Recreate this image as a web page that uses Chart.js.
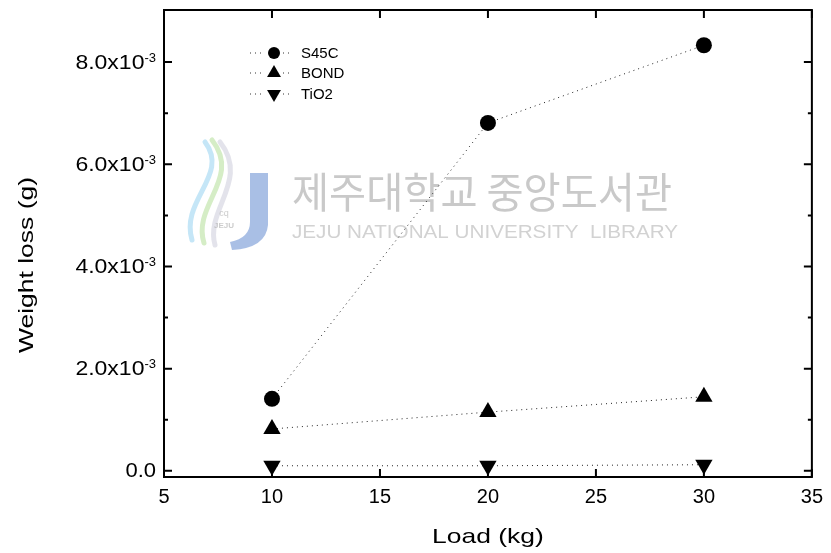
<!DOCTYPE html>
<html lang="ko">
<head>
    <meta charset="UTF-8">
    <title>Weight loss vs Load</title>
    <script src="https://cdn.jsdelivr.net/npm/chart.js"></script>
    <style>
        html, body { margin: 0; padding: 0; background: #fff; }
        .chart-box { width: 831px; height: 553px; position: relative; }
    </style>
</head>
<body>
    <div class="chart-box">
        <canvas id="wearChart"></canvas>
    </div>

    <script>
        // load (kg) and weight loss (g)
        const loads = [10, 20, 30];
        const s45c = [1.41e-3, 6.81e-3, 8.33e-3];
        const bond = [0.82e-3, 1.15e-3, 1.45e-3];
        const tio2 = [0.10e-3, 0.10e-3, 0.12e-3];

        const xTicks = [5, 10, 15, 20, 25, 30, 35];
        const yMajor = [0, 2e-3, 4e-3, 6e-3, 8e-3];
        const yMinor = [1e-3, 3e-3, 5e-3, 7e-3];
        const yLabels = ['0.0', '2.0x10', '4.0x10', '6.0x10', '8.0x10'];

        const FONT = '"Liberation Sans", Arial, sans-serif';

        function points(ys) {
            return loads.map((x, i) => ({ x: x, y: ys[i] }));
        }

        function series(label, ys, style, rot, r) {
            return {
                label: label,
                data: points(ys),
                borderColor: '#222',
                borderWidth: 1,
                borderDash: [1, 4],
                backgroundColor: '#000',
                pointStyle: style,
                rotation: rot,
                pointRadius: r,
                pointBorderWidth: 0,
                pointBackgroundColor: '#000',
                showLine: true,
                tension: 0
            };
        }

        // text drawn a bit wider than the font's natural width
        function wideText(ctx, text, x, y, font, sx, align, angle) {
            ctx.save();
            ctx.translate(x, y);
            if (angle) ctx.rotate(angle);
            ctx.scale(sx, 1);
            ctx.font = font;
            ctx.textAlign = align;
            ctx.textBaseline = 'middle';
            ctx.fillText(text, 0, 0);
            ctx.restore();
        }

        // faint library watermark behind the data
        const watermark = {
            id: 'watermark',
            beforeDatasetsDraw(chart) {
                const ctx = chart.ctx;
                ctx.save();
                // swirl logo
                ctx.lineCap = 'round';
                ctx.lineWidth = 5;
                ctx.strokeStyle = 'rgba(150,210,240,0.55)';
                ctx.beginPath();
                ctx.moveTo(205, 142);
                ctx.bezierCurveTo(230, 175, 180, 200, 192, 240);
                ctx.stroke();
                ctx.strokeStyle = 'rgba(185,225,160,0.6)';
                ctx.beginPath();
                ctx.moveTo(212, 140);
                ctx.bezierCurveTo(242, 178, 192, 205, 204, 243);
                ctx.stroke();
                ctx.strokeStyle = 'rgba(200,200,215,0.5)';
                ctx.beginPath();
                ctx.moveTo(220, 142);
                ctx.bezierCurveTo(250, 180, 205, 210, 215, 245);
                ctx.stroke();
                // J shape
                ctx.fillStyle = 'rgba(140,170,220,0.75)';
                ctx.beginPath();
                ctx.moveTo(250, 173);
                ctx.lineTo(268, 173);
                ctx.lineTo(268, 225);
                ctx.quadraticCurveTo(266, 248, 232, 250);
                ctx.lineTo(230, 242);
                ctx.quadraticCurveTo(250, 238, 250, 222);
                ctx.closePath();
                ctx.fill();
                ctx.fillStyle = 'rgba(170,170,170,0.6)';
                ctx.font = 'bold 8px ' + FONT;
                ctx.textAlign = 'center';
                ctx.fillText('JEJU', 224, 228);
                ctx.font = '9px ' + FONT;
                ctx.fillText('cq', 224, 216);

                // korean and english names
                ctx.fillStyle = '#c9c9c9';
                ctx.textAlign = 'left';
                ctx.textBaseline = 'middle';
                ctx.font = '42px "Noto Sans CJK KR", sans-serif';
                const kr = '제주대학교 중앙도서관';
                const kw = ctx.measureText(kr).width;
                ctx.save();
                ctx.translate(292, 192);
                ctx.scale(380 / kw, 1);
                ctx.fillText(kr, 0, 0);
                ctx.restore();
                ctx.fillStyle = '#d2d2d2';
                ctx.font = '18px ' + FONT;
                const en = 'JEJU NATIONAL UNIVERSITY  LIBRARY';
                const ew = ctx.measureText(en).width;
                ctx.save();
                ctx.translate(292, 233);
                ctx.scale(386 / ew, 1);
                ctx.fillText(en, 0, 0);
                ctx.restore();
                ctx.restore();
            }
        };

        // box frame, inward ticks, y labels with exponent, titles, legend
        const frame = {
            id: 'frame',
            afterDraw(chart) {
                const ctx = chart.ctx;
                const a = chart.chartArea;
                const xs = chart.scales.x, ys = chart.scales.y;
                ctx.save();
                ctx.strokeStyle = '#000';
                ctx.lineWidth = 2;
                ctx.strokeRect(a.left, a.top, a.right - a.left, a.bottom - a.top);

                ctx.beginPath();
                xTicks.forEach(v => {
                    const px = xs.getPixelForValue(v);
                    ctx.moveTo(px, a.bottom); ctx.lineTo(px, a.bottom - 8);
                    ctx.moveTo(px, a.top); ctx.lineTo(px, a.top + 8);
                });
                yMajor.forEach(v => {
                    const py = ys.getPixelForValue(v);
                    ctx.moveTo(a.left, py); ctx.lineTo(a.left + 8, py);
                    ctx.moveTo(a.right, py); ctx.lineTo(a.right - 8, py);
                });
                yMinor.forEach(v => {
                    const py = ys.getPixelForValue(v);
                    ctx.moveTo(a.left, py); ctx.lineTo(a.left + 4, py);
                    ctx.moveTo(a.right, py); ctx.lineTo(a.right - 4, py);
                });
                ctx.stroke();

                // y tick labels
                ctx.fillStyle = '#000';
                yMajor.forEach((v, i) => {
                    const py = ys.getPixelForValue(v);
                    const right = a.left - 8;
                    if (v === 0) {
                        wideText(ctx, yLabels[i], right, py + 1, '20px ' + FONT, 1.1, 'right');
                        return;
                    }
                    ctx.font = '13px ' + FONT;
                    const ew = ctx.measureText('-3').width;
                    wideText(ctx, '-3', right - ew, py - 4, '13px ' + FONT, 1, 'left');
                    wideText(ctx, yLabels[i], right - ew, py + 1, '20px ' + FONT, 1.15, 'right');
                });

                // axis titles
                wideText(ctx, 'Load (kg)', (a.left + a.right) / 2, 537, '21px ' + FONT, 1.26, 'center');
                wideText(ctx, 'Weight loss (g)', 27, 265, '21px ' + FONT, 1.26, 'center', -Math.PI / 2);

                // legend
                const rows = [
                    { ds: 0, y: 53, r: 6 },
                    { ds: 1, y: 73, r: 8 },
                    { ds: 2, y: 94, r: 8 }
                ];
                rows.forEach(r => {
                    const d = chart.data.datasets[r.ds];
                    ctx.strokeStyle = '#333';
                    ctx.lineWidth = 1;
                    ctx.setLineDash([1, 4]);
                    ctx.beginPath();
                    ctx.moveTo(250, r.y); ctx.lineTo(265, r.y);
                    ctx.moveTo(283, r.y); ctx.lineTo(292, r.y);
                    ctx.stroke();
                    ctx.setLineDash([]);
                    ctx.fillStyle = '#000';
                    Chart.helpers.drawPoint(ctx, {
                        pointStyle: d.pointStyle,
                        rotation: d.rotation,
                        radius: r.r,
                        borderWidth: 0
                    }, 274, r.y);
                    wideText(ctx, d.label, 301, r.y + 1, '15px ' + FONT, 1, 'left');
                });
                ctx.restore();
            }
        };

        const ctx = document.getElementById('wearChart').getContext('2d');
        new Chart(ctx, {
            type: 'scatter',
            data: {
                datasets: [
                    series('S45C', s45c, 'circle', 0, 8),
                    series('BOND', bond, 'triangle', 0, 10),
                    series('TiO2', tio2, 'triangle', 180, 10)
                ]
            },
            options: {
                responsive: true,
                maintainAspectRatio: false,
                animation: false,
                layout: { padding: { top: 10, right: 18, left: 0, bottom: 0 } },
                plugins: {
                    legend: { display: false },
                    tooltip: { enabled: false }
                },
                scales: {
                    x: {
                        type: 'linear',
                        min: 5,
                        max: 35,
                        afterFit: s => { s.height = 76; },
                        afterBuildTicks: s => { s.ticks = xTicks.map(v => ({ value: v })); },
                        grid: { display: false, drawTicks: false },
                        border: { display: false },
                        ticks: {
                            padding: 8,
                            color: '#000',
                            font: { family: FONT, size: 20 }
                        },
                        title: { display: false }
                    },
                    y: {
                        type: 'linear',
                        min: -0.12e-3,
                        max: 9.02e-3,
                        afterFit: s => { s.width = 164; },
                        grid: { display: false, drawTicks: false },
                        border: { display: false },
                        ticks: { display: false },
                        title: { display: false }
                    }
                }
            },
            plugins: [watermark, frame]
        });
    </script>
</body>
</html>
